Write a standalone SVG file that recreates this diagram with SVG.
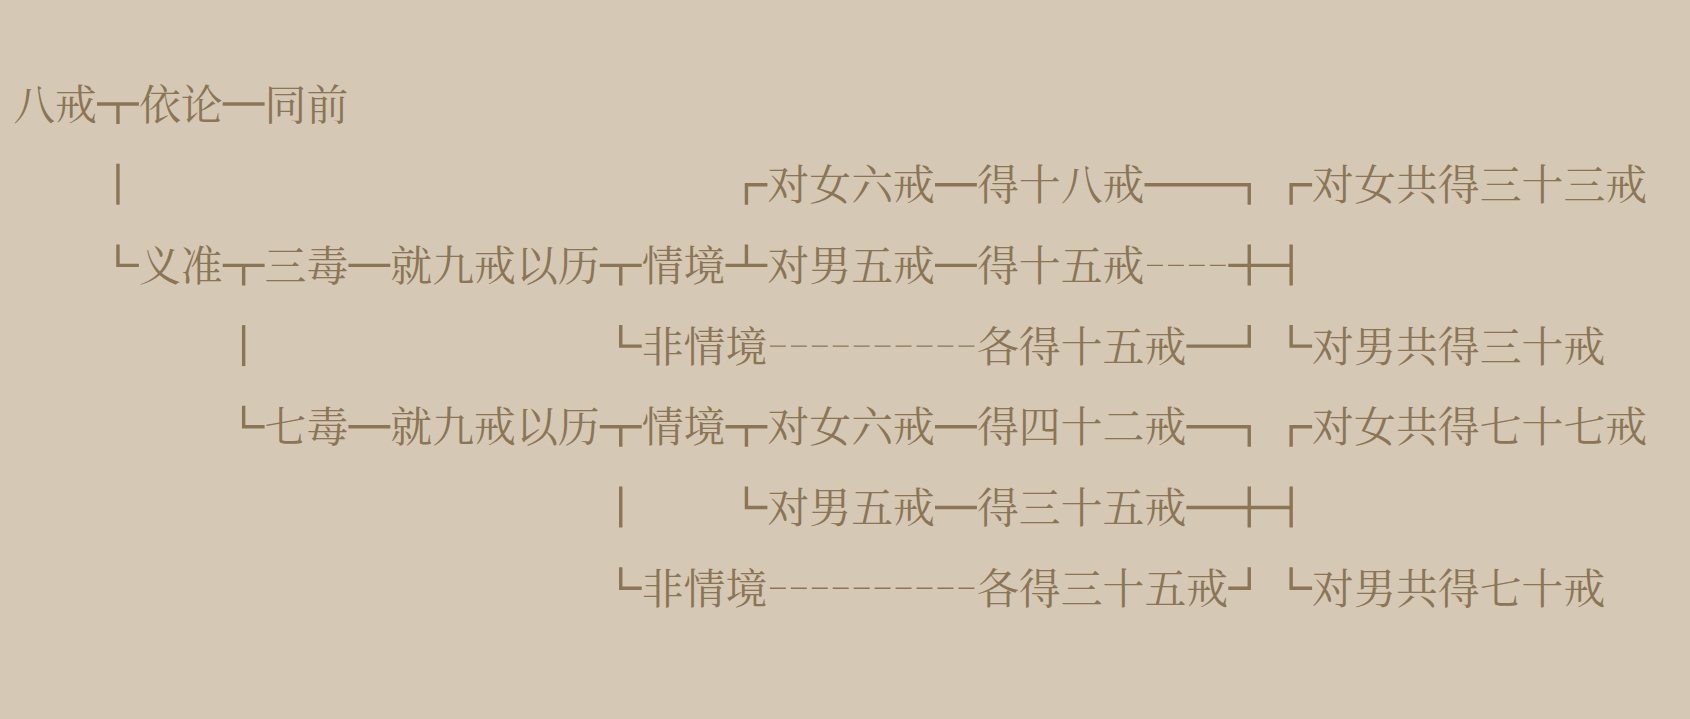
<svg xmlns="http://www.w3.org/2000/svg" width="1690" height="719" viewBox="0 0 1690 719">
<style>
.t{font-family:"Noto Serif CJK SC","Noto Sans CJK SC","Noto Sans CJK JP",serif;font-size:41.9px;fill:#8b7555;}
.b{fill:none;stroke:#8b7555;stroke-width:3.4;stroke-linejoin:miter;stroke-linecap:butt;}
.d{fill:none;stroke:#8b7555;stroke-width:1.4;stroke-dasharray:15.95 5;}
</style>
<rect x="0" y="0" width="1690" height="719" fill="#d5c9b6"/>
<g id="connectors">
<!-- row 1 -->
<path class="b" d="M97,104 H138.9 M117.95,104 V124"/>
<path class="b" d="M222.7,104 H264.6"/>
<!-- row 2 -->
<path class="b" d="M117.95,163.7 V204.7"/>
<path class="b" d="M767.4,184.7 H746.45 V204.7"/>
<path class="b" d="M935,184.7 H976.9"/>
<path class="b" d="M1144.5,184.7 H1249.25 V204.7"/>
<path class="b" d="M1312.1,184.7 H1291.15 V204.7"/>
<!-- row 3 -->
<path class="b" d="M117.95,244.4 V265.4 H138.9"/>
<path class="b" d="M222.7,265.4 H264.6 M243.65,265.4 V285.4"/>
<path class="b" d="M348.4,265.4 H390.3"/>
<path class="b" d="M599.8,265.4 H641.7 M620.75,265.4 V285.4"/>
<path class="b" d="M725.5,265.4 H767.4 M746.45,244.4 V265.4"/>
<path class="b" d="M935,265.4 H976.9"/>
<path class="d" d="M1147,265.4 H1225.8"/>
<path class="b" d="M1228.3,265.4 H1291.15 M1249.25,244.4 V285.4 M1291.15,244.4 V285.4"/>
<!-- row 4 -->
<path class="b" d="M243.65,325.1 V366.1"/>
<path class="b" d="M620.75,325.1 V346.1 H641.7"/>
<path class="d" d="M769.9,346.1 H974.4"/>
<path class="b" d="M1186.4,346.1 H1249.25 V325.1"/>
<path class="b" d="M1291.15,325.1 V346.1 H1312.1"/>
<!-- row 5 -->
<path class="b" d="M243.65,405.8 V426.8 H264.6"/>
<path class="b" d="M348.4,426.8 H390.3"/>
<path class="b" d="M599.8,426.8 H641.7 M620.75,426.8 V446.8"/>
<path class="b" d="M725.5,426.8 H767.4 M746.45,426.8 V446.8"/>
<path class="b" d="M935,426.8 H976.9"/>
<path class="b" d="M1186.4,426.8 H1249.25 V446.8"/>
<path class="b" d="M1312.1,426.8 H1291.15 V446.8"/>
<!-- row 6 -->
<path class="b" d="M620.75,486.5 V527.5"/>
<path class="b" d="M746.45,486.5 V507.5 H767.4"/>
<path class="b" d="M935,507.5 H976.9"/>
<path class="b" d="M1186.4,507.5 H1291.15 M1249.25,486.5 V527.5 M1291.15,486.5 V527.5"/>
<!-- row 7 -->
<path class="b" d="M620.75,567.2 V588.2 H641.7"/>
<path class="d" d="M769.9,588.2 H974.4"/>
<path class="b" d="M1228.3,588.2 H1249.25 V567.2"/>
<path class="b" d="M1291.15,567.2 V588.2 H1312.1"/>
</g>
<g id="n-bajie"><text class="t" x="13.2" y="119.5">八戒</text></g>
<g id="n-yilun"><text class="t" x="138.9" y="119.5">依论</text></g>
<g id="n-tongqian"><text class="t" x="264.6" y="119.5">同前</text></g>
<g id="n-nv6-a"><text class="t" x="767.4" y="200.2">对女六戒</text></g>
<g id="n-de18"><text class="t" x="976.9" y="200.2">得十八戒</text></g>
<g id="n-nv33"><text class="t" x="1312.1" y="200.2">对女共得三十三戒</text></g>
<g id="n-yizhun"><text class="t" x="138.9" y="280.9">义准</text></g>
<g id="n-sandu"><text class="t" x="264.6" y="280.9">三毒</text></g>
<g id="n-jiu-a"><text class="t" x="390.3" y="280.9">就九戒以历</text></g>
<g id="n-qj-a"><text class="t" x="641.7" y="280.9">情境</text></g>
<g id="n-nan5-a"><text class="t" x="767.4" y="280.9">对男五戒</text></g>
<g id="n-de15"><text class="t" x="976.9" y="280.9">得十五戒</text></g>
<g id="n-fqj-a"><text class="t" x="641.7" y="361.6">非情境</text></g>
<g id="n-ge15"><text class="t" x="976.9" y="361.6">各得十五戒</text></g>
<g id="n-nan30"><text class="t" x="1312.1" y="361.6">对男共得三十戒</text></g>
<g id="n-qidu"><text class="t" x="264.6" y="442.3">七毒</text></g>
<g id="n-jiu-b"><text class="t" x="390.3" y="442.3">就九戒以历</text></g>
<g id="n-qj-b"><text class="t" x="641.7" y="442.3">情境</text></g>
<g id="n-nv6-b"><text class="t" x="767.4" y="442.3">对女六戒</text></g>
<g id="n-de42"><text class="t" x="976.9" y="442.3">得四十二戒</text></g>
<g id="n-nv77"><text class="t" x="1312.1" y="442.3">对女共得七十七戒</text></g>
<g id="n-nan5-b"><text class="t" x="767.4" y="523">对男五戒</text></g>
<g id="n-de35"><text class="t" x="976.9" y="523">得三十五戒</text></g>
<g id="n-fqj-b"><text class="t" x="641.7" y="603.7">非情境</text></g>
<g id="n-ge35"><text class="t" x="976.9" y="603.7">各得三十五戒</text></g>
<g id="n-nan70"><text class="t" x="1312.1" y="603.7">对男共得七十戒</text></g>
</svg>
